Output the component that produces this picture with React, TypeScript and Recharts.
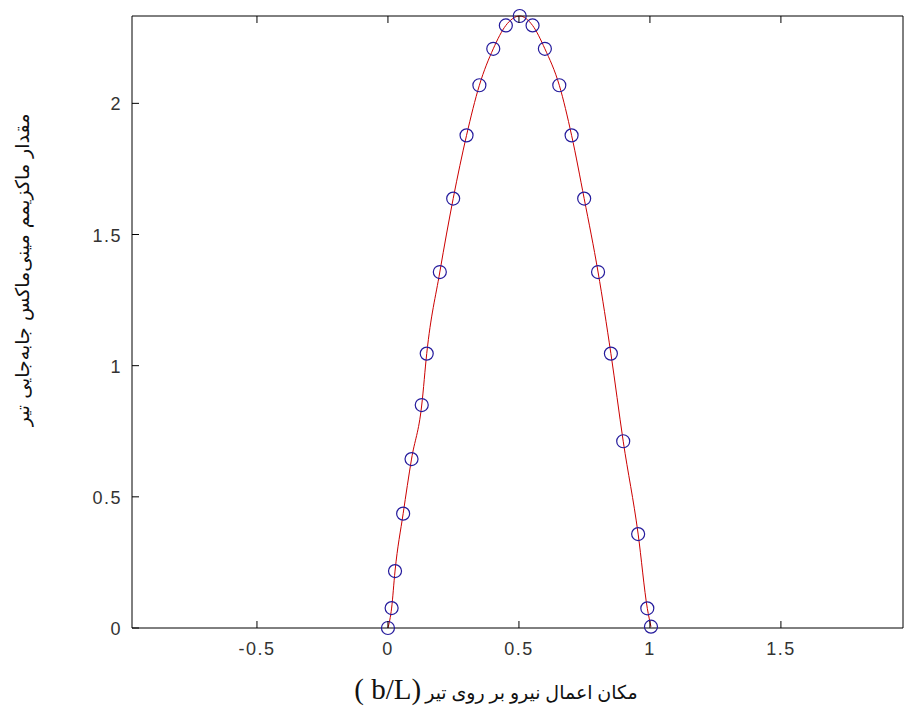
import { Line, LineChart, XAxis, YAxis } from "recharts";

// position of the load along the beam (b/L)
const positions = [
  0, 0.014, 0.027, 0.058, 0.09, 0.129, 0.148, 0.198, 0.249, 0.3, 0.349, 0.402,
  0.45, 0.503, 0.552, 0.599, 0.654, 0.701, 0.749, 0.802, 0.851, 0.898, 0.955,
  0.99, 1.004,
];
// max minimax deflection
const deflection = [
  0, 0.076, 0.217, 0.436, 0.644, 0.85, 1.046, 1.357, 1.637, 1.878, 2.069,
  2.208, 2.297, 2.333, 2.297, 2.208, 2.069, 1.878, 1.637, 1.357, 1.046, 0.712,
  0.358, 0.075, 0.005,
];

const xTicks = [-0.5, 0, 0.5, 1, 1.5];
const yTicks = [0, 0.5, 1, 1.5, 2];
const xDomain: [number, number] = [-0.977, 1.966];
const yDomain: [number, number] = [0, 2.333];

const data = positions.map((b, i) => ({ b, d: deflection[i] }));

const tickText = {
  fontFamily: "'Liberation Sans', Arial, sans-serif",
  fontSize: 18,
  letterSpacing: 1.5,
  fill: "#333",
};

const BottomTick = ({ x, y, payload }: any) => (
  <g>
    <line x1={x} y1={y} x2={x} y2={y - 7} stroke="#000" />
    <text x={x} y={y + 27} textAnchor="middle" {...tickText}>
      {String(payload.value)}
    </text>
  </g>
);

const TopTick = ({ x, y }: any) => (
  <line x1={x} y1={y} x2={x} y2={y + 7} stroke="#000" />
);

const LeftTick = ({ x, y, payload }: any) => (
  <g>
    <line x1={x} y1={y} x2={x + 7} y2={y} stroke="#000" />
    <text x={x - 10} y={y + 7} textAnchor="end" {...tickText}>
      {String(payload.value)}
    </text>
  </g>
);

const RightTick = ({ x, y }: any) => (
  <line x1={x} y1={y} x2={x - 7} y2={y} stroke="#000" />
);

const Ring = ({ cx, cy }: any) => (
  <circle cx={cx} cy={cy} r={6.5} fill="none" stroke="#241a9c" strokeWidth={1.2} />
);

export default function App() {
  return (
    <div
      style={{
        position: "absolute",
        left: 0,
        top: 0,
        width: 904,
        height: 706,
        background: "#fff",
      }}
    >
      <LineChart
        width={904}
        height={706}
        data={data}
        margin={{ top: 15, right: 0, bottom: 48, left: 72 }}
      >
        <XAxis
          dataKey="b"
          type="number"
          domain={xDomain}
          ticks={xTicks}
          height={30}
          stroke="#000"
          tickLine={false}
          tickSize={0}
          tickMargin={0}
          tick={<BottomTick />}
        />
        <XAxis
          xAxisId="top"
          orientation="top"
          dataKey="b"
          type="number"
          domain={xDomain}
          ticks={xTicks}
          height={1}
          stroke="#000"
          tickLine={false}
          tickSize={0}
          tickMargin={0}
          tick={<TopTick />}
        />
        <YAxis
          type="number"
          domain={yDomain}
          ticks={yTicks}
          width={60}
          stroke="#000"
          tickLine={false}
          tickSize={0}
          tickMargin={0}
          tick={<LeftTick />}
        />
        <YAxis
          yAxisId="right"
          orientation="right"
          type="number"
          domain={yDomain}
          ticks={yTicks}
          width={1}
          stroke="#000"
          tickLine={false}
          tickSize={0}
          tickMargin={0}
          tick={<RightTick />}
        />
        <Line
          dataKey="d"
          type="monotone"
          stroke="#cc0000"
          strokeWidth={1}
          dot={<Ring />}
          isAnimationActive={false}
        />
      </LineChart>
      <div
        style={{
          position: "absolute",
          left: 22,
          top: 270,
          transform: "translate(-50%, -50%) rotate(-90deg)",
          whiteSpace: "nowrap",
          direction: "rtl",
          fontFamily: "'DejaVu Sans', sans-serif",
          fontSize: 19,
          color: "#111",
        }}
      >
        مقدار ماکزیمم مینی‌ماکس جابه‌جایی تیر
      </div>
      <div
        style={{
          position: "absolute",
          left: 496,
          top: 689,
          transform: "translate(-50%, -50%)",
          whiteSpace: "nowrap",
          direction: "ltr",
          color: "#111",
        }}
      >
        <span
          style={{
            fontFamily: "'Liberation Serif', 'Times New Roman', serif",
            fontSize: 29,
            whiteSpace: "pre",
          }}
        >
          ( b/L)
        </span>{" "}
        <span
          style={{
            fontFamily: "'Liberation Serif', 'DejaVu Sans', serif",
            fontSize: 19,
          }}
        >
          مکان اعمال نیرو بر روی تیر
        </span>
      </div>
    </div>
  );
}
